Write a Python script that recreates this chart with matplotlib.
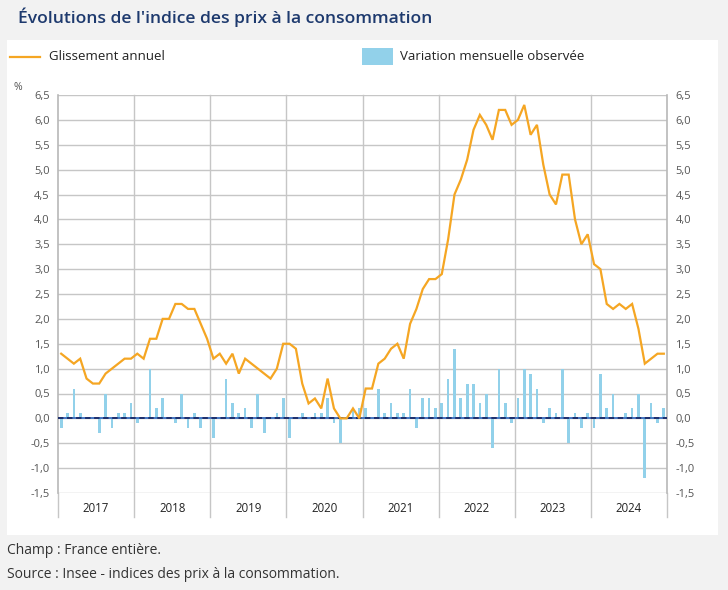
import matplotlib
matplotlib.use("Agg")
import matplotlib.pyplot as plt
import matplotlib.patches as mpatches
import matplotlib.lines as mlines
import matplotlib.transforms as mtransforms
import numpy as np

years = ["2017", "2018", "2019", "2020", "2021", "2022", "2023", "2024"]

glissement_annuel = [
    1.3, 1.2, 1.1, 1.2, 0.8, 0.7, 0.7, 0.9, 1.0, 1.1, 1.2, 1.2,   # 2017
    1.3, 1.2, 1.6, 1.6, 2.0, 2.0, 2.3, 2.3, 2.2, 2.2, 1.9, 1.6,   # 2018
    1.2, 1.3, 1.1, 1.3, 0.9, 1.2, 1.1, 1.0, 0.9, 0.8, 1.0, 1.5,   # 2019
    1.5, 1.4, 0.7, 0.3, 0.4, 0.2, 0.8, 0.2, 0.0, 0.0, 0.2, 0.0,   # 2020
    0.6, 0.6, 1.1, 1.2, 1.4, 1.5, 1.2, 1.9, 2.2, 2.6, 2.8, 2.8,   # 2021
    2.9, 3.6, 4.5, 4.8, 5.2, 5.8, 6.1, 5.9, 5.6, 6.2, 6.2, 5.9,   # 2022
    6.0, 6.3, 5.7, 5.9, 5.1, 4.5, 4.3, 4.9, 4.9, 4.0, 3.5, 3.7,   # 2023
    3.1, 3.0, 2.3, 2.2, 2.3, 2.2, 2.3, 1.8, 1.1, 1.2, 1.3, 1.3,   # 2024
]

variation_mensuelle = [
    -0.2, 0.1, 0.6, 0.1, 0.0, 0.0, -0.3, 0.5, -0.2, 0.1, 0.1, 0.3,   # 2017
    -0.1, 0.0, 1.0, 0.2, 0.4, 0.0, -0.1, 0.5, -0.2, 0.1, -0.2, 0.0,  # 2018
    -0.4, 0.0, 0.8, 0.3, 0.1, 0.2, -0.2, 0.5, -0.3, 0.0, 0.1, 0.4,   # 2019
    -0.4, 0.0, 0.1, 0.0, 0.1, 0.1, 0.4, -0.1, -0.5, 0.0, 0.2, 0.2,   # 2020
    0.2, 0.0, 0.6, 0.1, 0.3, 0.1, 0.1, 0.6, -0.2, 0.4, 0.4, 0.2,     # 2021
    0.3, 0.8, 1.4, 0.4, 0.7, 0.7, 0.3, 0.5, -0.6, 1.0, 0.3, -0.1,    # 2022
    0.4, 1.0, 0.9, 0.6, -0.1, 0.2, 0.1, 1.0, -0.5, 0.1, -0.2, 0.1,   # 2023
    -0.2, 0.9, 0.2, 0.5, 0.0, 0.1, 0.2, 0.5, -1.2, 0.3, -0.1, 0.2,   # 2024
]

y_ticks = [-1.5, -1.0, -0.5, 0.0, 0.5, 1.0, 1.5, 2.0, 2.5, 3.0, 3.5, 4.0, 4.5, 5.0, 5.5, 6.0, 6.5]

FONT = ["Open Sans", "DejaVu Sans"]
plt.rcParams["font.family"] = FONT

W, H = 728, 590
fig = plt.figure(figsize=(W / 100, H / 100), dpi=100)
fig.patch.set_facecolor("#f2f2f2")

# white panel as a background axes
bg = fig.add_axes([7 / W, 1 - 535 / H, (718 - 7) / W, (535 - 40) / H], zorder=0)
bg.set_facecolor("white")
bg.set_xticks([])
bg.set_yticks([])
for s in bg.spines.values():
    s.set_visible(False)

ax = fig.add_axes([58 / W, 1 - 493 / H, (667 - 58) / W, (493 - 95) / H], zorder=2)
ax.set_facecolor("white")

n = len(glissement_annuel)
x = np.arange(n) + 0.5

grid_c = "#c6c6c6"
for t in y_ticks:
    ax.axhline(t, color=grid_c, lw=1.0, zorder=1)

# year separators (extend below axis)
trans = mtransforms.blended_transform_factory(ax.transData, ax.transAxes)
for i in range(1, len(years)):
    ax.plot([i * 12, i * 12], [-24 / 398, 1], color=grid_c, lw=1.0,
            transform=trans, clip_on=False, zorder=1)
for xx in (0, n):
    ax.plot([xx, xx], [-24 / 398, 0], color=grid_c, lw=1.0,
            transform=trans, clip_on=False, zorder=1)

ax.bar(x, variation_mensuelle, width=0.42, color="#92d1ea", zorder=2)
ax.axhline(0, color="#3a6fc0", lw=1.3, zorder=3)
ax.axhline(0, color="#1b2a66", lw=1.3, ls=(0, (3, 2)), zorder=3)
ax.plot(x, glissement_annuel, color="#f5a623", lw=1.6, zorder=4,
        solid_joinstyle="miter")

ax.set_xlim(0, n)
ax.set_ylim(-1.5, 6.5)
ax.set_yticks(y_ticks)
ax.set_yticklabels([f"{t:.1f}".replace(".", ",") for t in y_ticks])
ax.tick_params(axis="y", length=0, labelsize=8, labelcolor="#555555", pad=6,
               labelright=True, right=False)
ax.set_xticks([])
for s in ("top", "bottom"):
    ax.spines[s].set_visible(False)
for s in ("left", "right"):
    ax.spines[s].set_color("#b8b8b8")
    ax.spines[s].set_linewidth(1.2)

for i, yr in enumerate(years):
    ax.text(i * 12 + 6, -15 / 398, yr, transform=trans, ha="center", va="center",
            fontsize=8.3, color="#222222")

# title
fig.text(18 / W, 1 - 17 / H, "Évolutions de l'indice des prix à la consommation",
         fontsize=12.6, fontweight="semibold", color="#1e3a6e", va="center", ha="left")

# legend
fig.add_artist(mlines.Line2D([10 / W, 40 / W], [1 - 57 / H, 1 - 57 / H],
                             color="#f5a623", lw=1.6, transform=fig.transFigure,
                             zorder=3))
fig.text(49 / W, 1 - 57 / H, "Glissement annuel", fontsize=9.5, color="#222222",
         va="center", ha="left", zorder=3)
fig.add_artist(mpatches.Rectangle((362 / W, 1 - 65 / H), 31 / W, 17 / H,
                                  transform=fig.transFigure,
                                  facecolor="#92d1ea", edgecolor="none", zorder=3))
fig.text(400 / W, 1 - 57 / H, "Variation mensuelle observée", fontsize=9.5,
         color="#222222", va="center", ha="left", zorder=3)

fig.text(13 / W, 1 - 87 / H, "%", fontsize=7.5, color="#555555", va="center",
         ha="left", zorder=3)

# footnotes
fig.text(7 / W, 1 - 550 / H, "Champ : France entière.", fontsize=10,
         color="#333333", va="center", ha="left")
fig.text(7 / W, 1 - 574 / H, "Source : Insee - indices des prix à la consommation.",
         fontsize=10, color="#333333", va="center", ha="left")

fig.savefig("out.png", dpi=100, facecolor=fig.get_facecolor())
